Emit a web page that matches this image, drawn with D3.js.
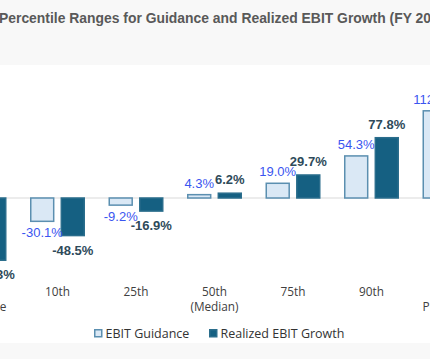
<!DOCTYPE html>
<html><head><meta charset="utf-8">
<script src="https://cdn.jsdelivr.net/npm/d3@7"></script>
<style>
html,body{margin:0;padding:0;background:#f8f8f8;overflow:hidden;}
svg{display:block;}
</style></head>
<body>
<script>
const categories = ["5th\nPercentile","10th","25th","50th\n(Median)","75th","90th","95th\nPercentile"];
const guidance = [-52.0, -30.1, -9.2, 4.3, 19.0, 54.3, 112.5];
const realized = [-80.3, -48.5, -16.9, 6.2, 29.7, 77.8, 160.0];
const seriesNames = ["EBIT Guidance", "Realized EBIT Growth"];
const title = "Percentile Ranges for Guidance and Realized EBIT Growth (FY 2024)";

const W = 430, H = 359;
const svg = d3.select("body").append("svg").attr("width", W).attr("height", H);

svg.append("rect").attr("x",0).attr("y",0).attr("width",W).attr("height",H).attr("fill","#f8f8f8");
svg.append("rect").attr("x",0).attr("y",65).attr("width",W).attr("height",278).attr("fill","#ffffff");

svg.append("text").attr("x",-1).attr("y",23)
  .attr("font-family","Liberation Sans, Arial, sans-serif").attr("font-weight","bold")
  .attr("font-size",13.9).attr("fill","#595959").text(title);

const x0 = d3.scaleBand().domain(categories).range([-60.25, 489.25]).padding(0);
const x1 = d3.scaleBand().domain([0,1]).range([11.75, 66.75]).paddingInner(0.2);
const y = d3.scaleLinear().domain([-100, 150]).range([198 + 77.5, 198 - 116.25]);

svg.append("line").attr("x1",0).attr("x2",W).attr("y1",y(0)).attr("y2",y(0))
  .attr("stroke","#d9d9d9").attr("stroke-width",1);

const fills = ["#dae8f5", "#156082"];
const strokes = ["#5b8fb0", "#2a6d8c"];
const labelColors = ["#3a55f0", "#2e4a5a"];

const rows = categories.map((c,i)=>({c, vals:[guidance[i], realized[i]]}));
const g = svg.selectAll("g.cat").data(rows).enter().append("g")
  .attr("transform", d=>`translate(${x0(d.c)},0)`);

g.selectAll("rect").data(d=>d.vals.map((v,s)=>({v,s}))).enter().append("rect")
  .attr("x", d=>x1(d.s)+0.75).attr("width", x1.bandwidth()-1.5)
  .attr("y", d=>Math.min(y(d.v), y(0))).attr("height", d=>Math.abs(y(d.v)-y(0)))
  .attr("fill", d=>fills[d.s]).attr("stroke", d=>strokes[d.s]).attr("stroke-width",1.5);

g.selectAll("text.lbl").data(d=>d.vals.map((v,s)=>({v,s}))).enter().append("text")
  .attr("class","lbl")
  .attr("x", d=>x1(d.s)+x1.bandwidth()/2)
  .attr("y", d=> d.v>=0 ? y(d.v) - (d.s? 9:7) : y(d.v) + (d.s? 19:16))
  .attr("text-anchor","middle")
  .attr("font-family","Liberation Sans, Arial, sans-serif")
  .attr("font-size",13)
  .attr("font-weight", d=>d.s? "bold":"normal")
  .attr("fill", d=>labelColors[d.s])
  .text(d=>d.v.toFixed(1)+"%");

// category labels
g.each(function(d){
  const lines = d.c.split("\n");
  const t = d3.select(this).append("text")
    .attr("text-anchor","middle")
    .attr("font-family","Open Sans, sans-serif").attr("font-size",11.8)
    .attr("fill","#404040");
  lines.forEach((ln,k)=>{
    t.append("tspan").attr("x", x0.bandwidth()/2).attr("y", 296 + k*15).text(ln);
  });
});

// legend
const leg = svg.append("g");
const legX = [94, 209];
seriesNames.forEach((n,s)=>{
  leg.append("rect").attr("x",legX[s]+0.75).attr("y",329.75).attr("width",7).attr("height",7)
    .attr("fill",fills[s]).attr("stroke",strokes[s]).attr("stroke-width",1.5);
  leg.append("text").attr("x",legX[s]+11.5).attr("y",337.5)
    .attr("font-family","Open Sans, sans-serif").attr("font-size",12.5)
    .attr("fill","#333333").text(n);
});
</script>
</body></html>
